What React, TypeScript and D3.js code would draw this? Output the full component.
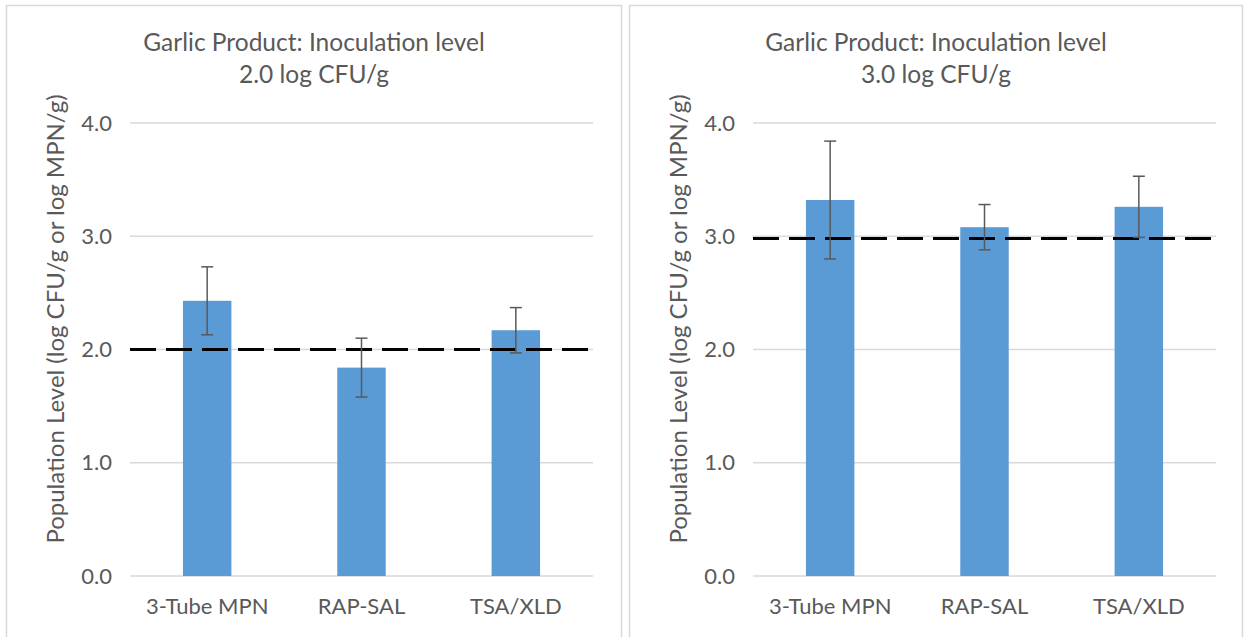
import React from 'react';
import * as d3 from 'd3';

const categories = ['3-Tube MPN', 'RAP-SAL', 'TSA/XLD'];
const yTicks = [0, 1, 2, 3, 4];

const titlesLow = ['Garlic Product: Inoculation level', '2.0 log CFU/g'];
const valuesLow = [2.43, 1.84, 2.17];
const errorsLow = [0.3, 0.26, 0.2];
const targetLow = 2.0;

const titlesHigh = ['Garlic Product: Inoculation level', '3.0 log CFU/g'];
const valuesHigh = [3.32, 3.08, 3.26];
const errorsHigh = [0.52, 0.2, 0.27];
const targetHigh = 2.98;

const yTitle = 'Population Level (log CFU/g or log MPN/g)';

const FONT = 'Lato, "Open Sans", sans-serif';
const TEXT = '#595959';

const Panel = ({ x0, x1, plotLeft, plotRight, titles, values, errors, target }) => {
    const top = 123;
    const bottom = 576;

    const x = d3.scaleBand()
        .domain(categories)
        .range([plotLeft, plotRight])
        .paddingInner(0.686)
        .paddingOuter(0.343);

    const y = d3.scaleLinear()
        .domain([0, 4])
        .range([bottom, top]);

    const cx = (x0 + x1) / 2;
    const bw = x.bandwidth();

    return (
        <g>
            <rect x={x0 + 0.5} y={5.5} width={x1 - x0 - 1} height={640} fill="#fff" stroke="#d9d9d9" strokeWidth={1.5} />
            {titles.map((t, i) => (
                <text key={t} x={cx} y={51 + i * 32} textAnchor="middle" fontSize={24.5} fill={TEXT} fontFamily={FONT}>{t}</text>
            ))}

            {/* gridlines + tick labels */}
            {yTicks.map(t => (
                <g key={t}>
                    <line x1={plotLeft} x2={plotRight} y1={y(t)} y2={y(t)} stroke="#d9d9d9" strokeWidth={1.3} />
                    <text x={plotLeft - 18} y={y(t) + 7.5} textAnchor="end" fontSize={22} fill={TEXT} fontFamily={FONT}>{t.toFixed(1)}</text>
                </g>
            ))}

            <text transform={`translate(${plotLeft - 66},319) rotate(-90)`} textAnchor="middle" fontSize={24} fill={TEXT} fontFamily={FONT}>{yTitle}</text>

            {categories.map((c, i) => (
                <rect key={c} x={x(c)} y={y(values[i])} width={bw} height={bottom - y(values[i])} fill="#5b9bd5" />
            ))}

            <line x1={plotLeft} x2={plotRight} y1={y(target)} y2={y(target)} stroke="#000" strokeWidth={3} strokeDasharray="26 10" />

            {categories.map((c, i) => {
                const ex = x(c) + bw / 2;
                const hi = y(values[i] + errors[i]);
                const lo = y(values[i] - errors[i]);
                return (
                    <g key={c} stroke="#595959" strokeWidth={1.5}>
                        <line x1={ex} x2={ex} y1={hi} y2={lo} />
                        <line x1={ex - 6} x2={ex + 6} y1={hi} y2={hi} />
                        <line x1={ex - 6} x2={ex + 6} y1={lo} y2={lo} />
                    </g>
                );
            })}

            {categories.map(c => (
                <text key={c} x={x(c) + bw / 2} y={614} textAnchor="middle" fontSize={22} fill={TEXT} fontFamily={FONT}>{c}</text>
            ))}
        </g>
    );
};

const App = () => {
    return (
        <svg width={1244} height={637} style={{ position: 'absolute', left: 0, top: 0, background: '#fff' }}>
            <Panel x0={6} x1={622} plotLeft={130} plotRight={593} titles={titlesLow} values={valuesLow} errors={errorsLow} target={targetLow} />
            <Panel x0={629} x1={1243} plotLeft={753} plotRight={1216} titles={titlesHigh} values={valuesHigh} errors={errorsHigh} target={targetHigh} />
        </svg>
    );
};

export default App;
